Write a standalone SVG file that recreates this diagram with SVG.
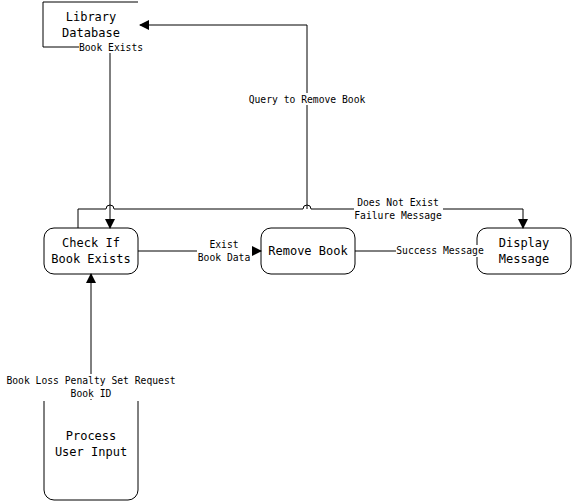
<svg xmlns="http://www.w3.org/2000/svg" width="573" height="502" viewBox="0 0 573 502">
<defs>
<marker id="arr" markerWidth="10" markerHeight="10" refX="9" refY="5" orient="auto" markerUnits="userSpaceOnUse">
<path d="M0,0 L10,5 L0,10 Z" fill="#000"/>
</marker>
<style>
.n{fill:#fff;stroke:#000;stroke-width:1}
.o{fill:none;stroke:#000;stroke-width:1}
.t{font-family:"DejaVu Sans Mono",monospace;font-size:12px;fill:#000;text-anchor:middle}
.l{font-family:"DejaVu Sans Mono",monospace;font-size:9.7px;fill:#000;text-anchor:middle}
.c{fill:none;stroke:#000;stroke-width:1}
.bg{fill:#fff}
</style>
</defs>
<rect width="573" height="502" fill="#fff"/>
<g id="library-database">
<path class="o" d="M138,2 H43 V47 H80"/>
<text class="t" x="91" y="21">Library</text>
<text class="t" x="91" y="37">Database</text>
</g>
<g id="check-if-book-exists">
<rect class="n" x="44" y="228" width="94" height="46" rx="10"/>
<text class="t" x="91" y="247">Check If</text>
<text class="t" x="91" y="263">Book Exists</text>
</g>
<g id="remove-book">
<rect class="n" x="261" y="228" width="94" height="46" rx="10"/>
<text class="t" x="308" y="255">Remove Book</text>
</g>
<g id="display-message">
<rect class="n" x="477" y="228" width="94" height="46" rx="10"/>
<text class="t" x="524" y="247">Display</text>
<text class="t" x="524" y="263">Message</text>
</g>
<g id="process-user-input">
<path class="o" d="M44,401 V490 A10,10 0 0 0 54,500 H128 A10,10 0 0 0 138,490 V401"/>
<text class="t" x="91" y="440">Process</text>
<text class="t" x="91" y="456">User Input</text>
</g>
<g id="connectors">
<path class="c" d="M307,209 V25 H140" marker-end="url(#arr)"/>
<path class="c" d="M110,47 V228" marker-end="url(#arr)"/>
<path class="c" d="M78,228 V209 H106 A4,4 0 0 1 114,209 H303 A4,4 0 0 1 311,209 H523 V228" marker-end="url(#arr)"/>
<path class="c" d="M138,251 H261" marker-end="url(#arr)"/>
<path class="c" d="M355,251 H477" marker-end="url(#arr)"/>
<path class="c" d="M91,400 V274" marker-end="url(#arr)"/>
<rect class="bg" x="248" y="93" width="118" height="12"/>
<text class="l" x="307" y="103">Query to Remove Book</text>
<rect class="bg" x="79" y="41" width="65" height="12"/>
<text class="l" x="111" y="51">Book Exists</text>
<rect class="bg" x="354" y="196" width="89" height="25"/>
<text class="l" x="398" y="206">Does Not Exist</text>
<text class="l" x="398" y="219">Failure Message</text>
<rect class="bg" x="197" y="238" width="55" height="25"/>
<text class="l" x="224" y="248">Exist</text>
<text class="l" x="224" y="261">Book Data</text>
<rect class="bg" x="396" y="245" width="89" height="12"/>
<text class="l" x="440" y="254">Success Message</text>
<rect class="bg" x="5" y="374" width="172" height="25"/>
<text class="l" x="91" y="384">Book Loss Penalty Set Request</text>
<text class="l" x="91" y="397">Book ID</text>
</g>
</svg>
